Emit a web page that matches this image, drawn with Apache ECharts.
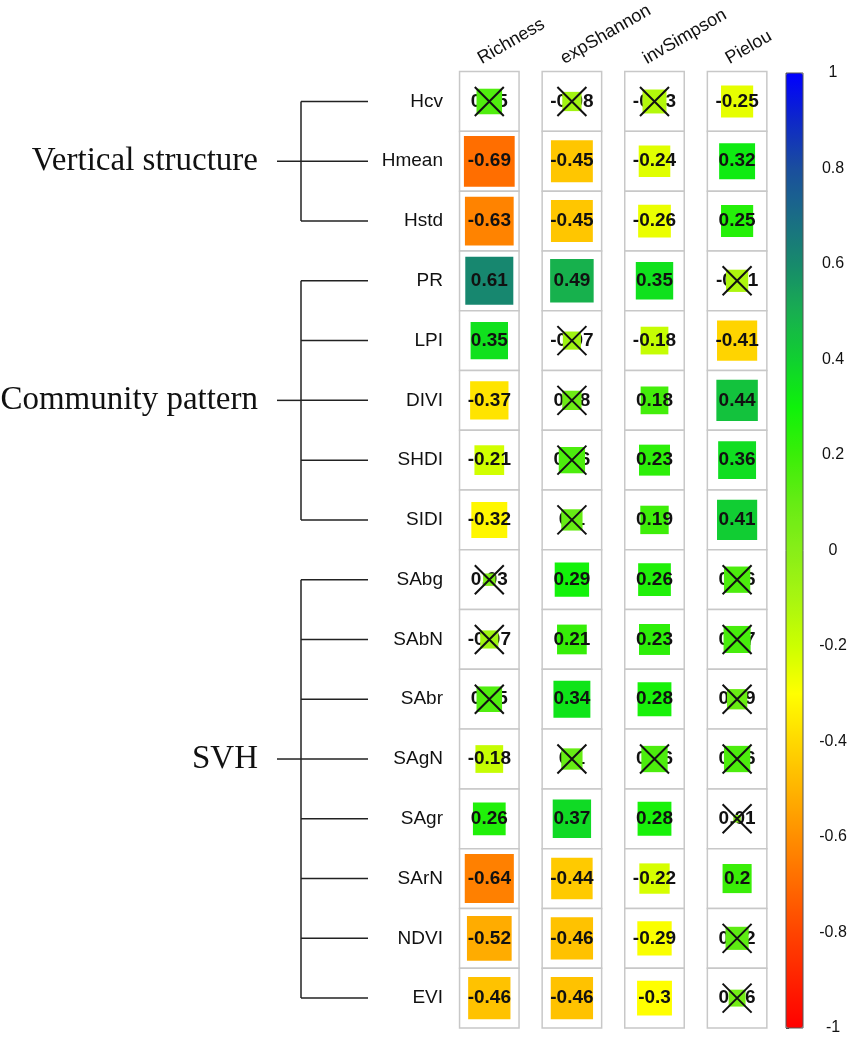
<!DOCTYPE html>
<html>
<head>
<meta charset="utf-8">
<script src="https://cdn.jsdelivr.net/npm/echarts@6/dist/echarts.min.js"></script>
<style>
  html, body { margin: 0; padding: 0; background: #fff; }
  #chart { width: 851px; height: 1039px; }
</style>
</head>
<body>
<div id="chart"></div>
<script>
  // rows (top to bottom) and columns of the correlation table
  var rows = ['Hcv', 'Hmean', 'Hstd', 'PR', 'LPI', 'DIVI', 'SHDI', 'SIDI',
              'SAbg', 'SAbN', 'SAbr', 'SAgN', 'SAgr', 'SArN', 'NDVI', 'EVI'];
  var columns = ['Richness', 'expShannon', 'invSimpson', 'Pielou'];

  var richness   = [0.15, -0.69, -0.63, 0.61, 0.35, -0.37, -0.21, -0.32, 0.03, -0.07, 0.15, -0.18, 0.26, -0.64, -0.52, -0.46];
  var expShannon = [-0.08, -0.45, -0.45, 0.49, -0.07, 0.08, 0.16, 0.1, 0.29, 0.21, 0.34, 0.1, 0.37, -0.44, -0.46, -0.46];
  var invSimpson = [-0.13, -0.24, -0.26, 0.35, -0.18, 0.18, 0.23, 0.19, 0.26, 0.23, 0.28, 0.16, 0.28, -0.22, -0.29, -0.3];
  var pielou     = [-0.25, 0.32, 0.25, -0.11, -0.41, 0.44, 0.36, 0.41, 0.16, 0.17, 0.09, 0.16, 0.01, 0.2, 0.12, 0.06];

  // 1 = significant, 0 = crossed out
  var richnessSig   = [0, 1, 1, 1, 1, 1, 1, 1, 0, 0, 0, 1, 1, 1, 1, 1];
  var expShannonSig = [0, 1, 1, 1, 0, 0, 0, 0, 1, 1, 1, 0, 1, 1, 1, 1];
  var invSimpsonSig = [0, 1, 1, 1, 1, 1, 1, 1, 1, 1, 1, 0, 1, 1, 1, 1];
  var pielouSig     = [1, 1, 1, 0, 1, 1, 1, 1, 0, 0, 0, 0, 0, 1, 0, 0];

  // bracket groups on the left (row indices)
  var groupNames = ['Vertical structure', 'Community pattern', 'SVH'];
  var groupStart = [0, 3, 8];
  var groupEnd   = [2, 7, 15];
  var groupMid   = [1, 5, 11];

  var values = [richness, expShannon, invSimpson, pielou];
  var sigs = [richnessSig, expShannonSig, invSimpsonSig, pielouSig];

  var cells = [];
  values.forEach(function (col, c) {
    col.forEach(function (v, r) {
      cells.push([c, r, v, sigs[c][r]]);
    });
  });
  var notSig = cells.filter(function (d) { return d[3] === 0; });

  var FONT = '"Liberation Sans", Arial, sans-serif';
  var GRID_TOP = 71.6, GRID_H = 956.4;

  var chart = echarts.init(document.getElementById('chart'));

  var option = {
    backgroundColor: '#fff',
    animation: false,
    textStyle: { fontFamily: FONT },
    grid: [
      { left: 448, top: GRID_TOP, width: 330.4, height: GRID_H },
      { left: 0, top: GRID_TOP, width: 448, height: GRID_H },
      { left: 786, top: 73, width: 17, height: 955, show: true, z: 10,
        borderColor: '#555', borderWidth: 1, backgroundColor: 'transparent' },
      { left: 438, top: GRID_TOP, width: 330.4, height: GRID_H }
    ],
    xAxis: [
      { gridIndex: 0, type: 'category', data: columns, show: false },
      { gridIndex: 1, type: 'value', min: 0, max: 448, show: false },
      { gridIndex: 2, type: 'value', show: false },
      { gridIndex: 3, type: 'category', data: columns, position: 'top',
        axisLine: { show: false }, axisTick: { show: false },
        axisLabel: { rotate: 30, margin: 12, fontSize: 18, color: '#111', interval: 0 } }
    ],
    yAxis: [
      { gridIndex: 0, type: 'category', data: rows, inverse: true,
        axisLine: { show: false }, axisTick: { show: false },
        axisLabel: { fontSize: 19, color: '#111', margin: 5 } },
      { gridIndex: 1, type: 'category', data: rows, inverse: true, show: false },
      { gridIndex: 2, type: 'value', min: -1, max: 1, interval: 0.2, position: 'right',
        axisLine: { show: false },
        axisTick: { show: true, length: 3, lineStyle: { color: '#444' } },
        splitLine: { show: false },
        axisLabel: { fontSize: 16, color: '#111', align: 'center', margin: 30 } },
      { gridIndex: 3, type: 'value', show: false }
    ],
    visualMap: {
      type: 'continuous',
      min: -1, max: 1,
      dimension: 2,
      seriesIndex: 2,
      calculable: false,
      hoverLink: false,
      left: 781, top: 68, padding: 5,
      itemWidth: 17, itemHeight: 955,
      inRange: {
        color: ['#FF0000', '#FF2200', '#FF4400', '#FF6A00', '#FF8E00', '#FFB400', '#FFD800',
                '#FFFF00', '#CCFF00', '#A8F510', '#88EE18', '#66EC14', '#3AEE08', '#0FF20A',
                '#10D030', '#18AE50', '#178A6C', '#1A6C86', '#1A4E9E', '#0E28C8', '#0000FF']
      }
    },
    series: [
      { // cell frames
        type: 'scatter', xAxisIndex: 0, yAxisIndex: 0, z: 1, silent: true,
        symbol: 'rect', symbolSize: [59.5, 59.8],
        itemStyle: { color: '#fff', borderColor: '#c8c8c8', borderWidth: 1.5, opacity: 1 },
        data: cells
      },
      { // labels of crossed cells, under the squares
        type: 'scatter', xAxisIndex: 0, yAxisIndex: 0, z: 2, silent: true,
        symbolSize: 1, itemStyle: { color: 'transparent', opacity: 1 },
        label: { show: true, position: 'inside', fontSize: 19, fontWeight: 'bold', color: '#111',
                 formatter: function (p) { return String(p.value[2]); } },
        data: notSig
      },
      { // coloured squares
        type: 'scatter', xAxisIndex: 0, yAxisIndex: 0, z: 3, silent: true,
        symbol: 'rect',
        symbolSize: function (v) { return 60 * Math.pow(Math.abs(v[2]), 0.45); },
        itemStyle: { opacity: 1 },
        label: { show: true, position: 'inside', fontSize: 19, fontWeight: 'bold', color: '#111',
                 formatter: function (p) { return p.value[3] ? String(p.value[2]) : ''; } },
        data: cells
      },
      { // crosses
        type: 'scatter', xAxisIndex: 0, yAxisIndex: 0, z: 4, silent: true,
        symbol: 'path://M0,0L10,10M10,0L0,10', symbolSize: 29,
        itemStyle: { color: 'transparent', borderColor: '#111', borderWidth: 2, opacity: 1 },
        data: notSig
      },
      { // brackets + group names
        type: 'custom', xAxisIndex: 1, yAxisIndex: 1, silent: true,
        data: groupNames.map(function (n, i) { return [groupStart[i], groupEnd[i], groupMid[i]]; }),
        renderItem: function (params, api) {
          var s = api.value(0), e = api.value(1), m = api.value(2);
          var trunk = 301, tip = 368, stem = 277, textRight = 258;
          var line = function (x1, y1, x2, y2) {
            return { type: 'line', shape: { x1: x1, y1: y1, x2: x2, y2: y2 },
                     style: { stroke: '#222', lineWidth: 1.5 } };
          };
          var yS = api.coord([trunk, s])[1], yE = api.coord([trunk, e])[1], yM = api.coord([trunk, m])[1];
          var xT = api.coord([trunk, s])[0], xTip = api.coord([tip, s])[0], xStem = api.coord([stem, s])[0];
          var children = [line(xT, yS, xT, yE), line(xStem, yM, xT, yM)];
          for (var r = s; r <= e; r++) {
            var y = api.coord([trunk, r])[1];
            children.push(line(xT, y, xTip, y));
          }
          children.push({
            type: 'text', x: api.coord([textRight, m])[0], y: yM,
            style: { text: groupNames[params.dataIndex], fill: '#111',
                     font: '33px "Liberation Serif", "Times New Roman", serif',
                     align: 'right', verticalAlign: 'middle' }
          });
          return { type: 'group', children: children };
        }
      }
    ]
  };

  chart.setOption(option);
</script>
</body>
</html>
